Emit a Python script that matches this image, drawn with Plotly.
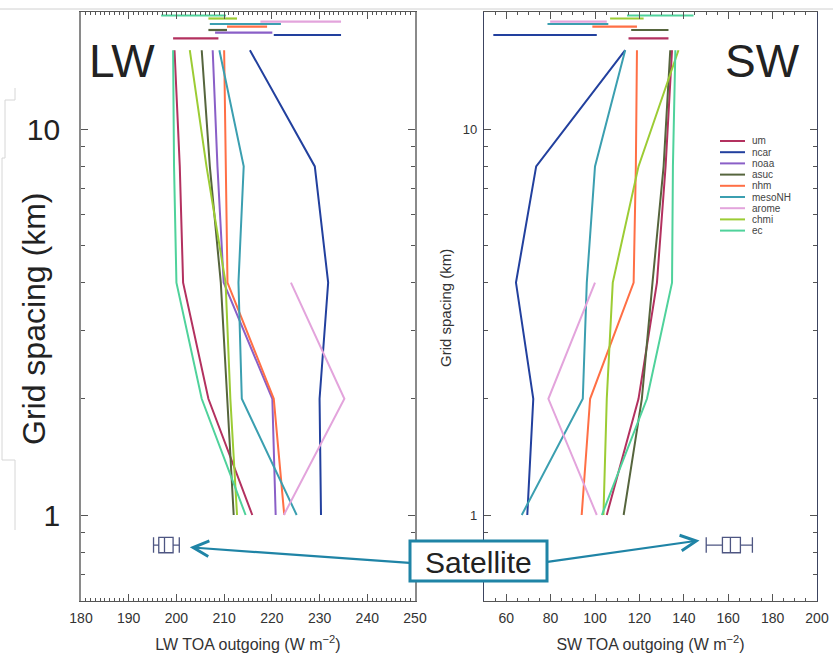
import math
import plotly.graph_objects as go

# ---------------- data ----------------
models = ["um", "ncar", "noaa", "asuc", "nhm", "mesoNH", "arome", "chmi", "ec"]
colors = ["#b3315f", "#22409e", "#8a5fc7", "#56653d", "#ff6f45",
          "#3b9fb0", "#e3a4dc", "#9ccc34", "#4fd29b"]

grid_km = [1, 2, 4, 8, 16]

# LW TOA outgoing (W m-2) at grid spacings 1, 2, 4, 8, 16 km
lw_um     = [215.9, 206.7, 201.4, 200.7, 199.6]
lw_ncar   = [230.3, 230.0, 231.8, 229.0, 215.4]
lw_noaa   = [220.8, 220.1, 209.9, 208.6, 207.6]
lw_asuc   = [212.0, 210.6, 209.3, 207.0, 205.3]
lw_nhm    = [222.6, 220.4, 210.7, 210.4, 210.0]
lw_mesoNH = [225.2, 213.7, 213.0, 214.1, 209.0]
lw_arome  = [222.5, 235.2, 224.0, None, None]
lw_chmi   = [212.7, 211.3, 210.3, 206.3, 202.8]
lw_ec     = [214.5, 205.3, 200.0, 199.5, 199.3]

# SW TOA outgoing (W m-2)
sw_um     = [105.3, 119.6, 127.9, 131.8, 134.7]
sw_ncar   = [69.5, 72.2, 64.4, 73.5, 113.6]
sw_noaa   = [None, None, None, None, None]
sw_asuc   = [112.9, 121.1, 125.9, 130.9, 133.9]
sw_nhm    = [94.0, 97.8, 117.4, 118.4, 118.9]
sw_mesoNH = [67.0, 94.5, 96.3, 100.0, 113.6]
sw_arome  = [100.8, 79.0, 100.0, None, None]
sw_chmi   = [103.8, 105.3, 108.0, 119.6, 137.6]
sw_ec     = [103.1, 123.4, 134.7, 135.1, 136.2]

# range bars drawn above the profiles (grid spacing position per model)
bar_km    = [17.18, 17.52, 17.76, 18.05, 18.41, 18.71, 18.97, 19.33, 19.68]
lw_bar_lo = [199.3, 220.4, 208.1, 206.7, 210.6, 207.0, 217.6, 206.7, 196.8]
lw_bar_hi = [208.8, 234.5, 220.1, 210.6, 219.0, 221.9, 234.5, 212.7, 210.4]
sw_bar_lo = [115.1, 54.2, None, 116.3, 98.8, 78.6, 79.8, 106.8, 114.4]
sw_bar_hi = [133.1, 100.8, None, 133.1, 118.9, 106.0, 105.3, 121.9, 144.4]

# satellite box plots: lower whisker, q1, median, q3, upper whisker
sat_km = 0.836
lw_sat = [195.2, 196.3, 197.5, 199.3, 200.6]
sw_sat = [150.1, 157.4, 161.0, 165.5, 170.9]

lw_ticks = [180, 190, 200, 210, 220, 230, 240, 250]
sw_ticks = [60, 80, 100, 120, 140, 160, 180, 200]

lw_series = [lw_um, lw_ncar, lw_noaa, lw_asuc, lw_nhm, lw_mesoNH, lw_arome, lw_chmi, lw_ec]
sw_series = [sw_um, sw_ncar, sw_noaa, sw_asuc, sw_nhm, sw_mesoNH, sw_arome, sw_chmi, sw_ec]

# ---------------- layout helpers ----------------
W, H = 833, 661
def fx(p):
    return p / W
def fy(p):
    return 1 - p / H

LW_X0, LW_X1 = 81, 415
SW_X0, SW_X1 = 484, 817
Y_TOP, Y_BOT = 12, 601
LW_RANGE = [180, 250]
SW_RANGE = [50, 200]
ylog_range = [-0.2228, 1.3031]

def lw_px(v):
    return LW_X0 + (v - LW_RANGE[0]) / (LW_RANGE[1] - LW_RANGE[0]) * (LW_X1 - LW_X0)
def sw_px(v):
    return SW_X0 + (v - SW_RANGE[0]) / (SW_RANGE[1] - SW_RANGE[0]) * (SW_X1 - SW_X0)
def y_px(logv):
    return Y_TOP + (ylog_range[1] - logv) / (ylog_range[1] - ylog_range[0]) * (Y_BOT - Y_TOP)

FONT = "Liberation Sans, Arial, Helvetica, sans-serif"
FRAME = "#555555"

fig = go.Figure()

for panel, series, lo, hi, xa, ya in [
    ("LW", lw_series, lw_bar_lo, lw_bar_hi, "x", "y"),
    ("SW", sw_series, sw_bar_lo, sw_bar_hi, "x2", "y2"),
]:
    for m, c, vals, blo, bhi, bk in zip(models, colors, series, lo, hi, bar_km):
        xs = [v for v in vals if v is not None]
        ys = [g for v, g in zip(vals, grid_km) if v is not None]
        if xs:
            fig.add_trace(go.Scatter(x=xs, y=ys, mode="lines", name=m,
                                     line=dict(color=c, width=2),
                                     xaxis=xa, yaxis=ya, showlegend=False,
                                     hoverinfo="skip"))
        if blo is not None:
            fig.add_trace(go.Scatter(x=[blo, bhi], y=[bk, bk], mode="lines",
                                     line=dict(color=c, width=2.2),
                                     xaxis=xa, yaxis=ya, showlegend=False,
                                     hoverinfo="skip"))

for stats, xa, ya in [(lw_sat, "x", "y"), (sw_sat, "x2", "y2")]:
    fig.add_trace(go.Box(
        y=[sat_km], lowerfence=[stats[0]], q1=[stats[1]], median=[stats[2]],
        q3=[stats[3]], upperfence=[stats[4]], orientation="h",
        width=0.04, whiskerwidth=1, fillcolor="rgba(0,0,0,0)",
        line=dict(color="#4e5682", width=1.3), xaxis=xa, yaxis=ya,
        showlegend=False, hoverinfo="skip"))

minor_y = [0.6, 0.7, 0.8, 0.9, 2, 3, 4, 5, 6, 7, 8, 9, 20]

common_x = dict(showgrid=False, zeroline=False, showline=True, linecolor=FRAME,
                linewidth=1.2, mirror="ticks", ticks="inside", ticklen=7,
                tickcolor=FRAME, tickfont=dict(size=14, color="#333333", family=FONT),
                ticklabelstandoff=4,
                title_font=dict(size=16, color="#333333", family=FONT),
                title_standoff=13, automargin=False)
common_y = dict(type="log", range=ylog_range, showgrid=False, zeroline=False,
                showline=True, linecolor=FRAME, linewidth=1.2, mirror="ticks",
                ticks="inside", ticklen=7, tickcolor=FRAME, tickmode="array",
                tickvals=[1, 10], ticktext=["1", "10"],
                minor=dict(tickmode="array", tickvals=minor_y, ticks="inside",
                           ticklen=4, tickcolor=FRAME),
                domain=[fy(Y_BOT), fy(Y_TOP)], automargin=False)

fig.update_layout(
    width=W, height=H, margin=dict(l=0, r=0, t=0, b=0, autoexpand=False),
    paper_bgcolor="white", plot_bgcolor="white",
    font=dict(family=FONT, color="#333333"),
    showlegend=False,
    xaxis=dict(common_x, domain=[fx(LW_X0), fx(LW_X1)], range=LW_RANGE,
               tickmode="array", tickvals=lw_ticks,
               minor=dict(dtick=1, ticks="inside", ticklen=3, tickcolor=FRAME),
               title_text="LW TOA outgoing (W m<sup>−2</sup>)", anchor="y"),
    xaxis2=dict(common_x, domain=[fx(SW_X0), fx(SW_X1)], range=SW_RANGE,
                tickmode="array", tickvals=sw_ticks,
                minor=dict(dtick=5, tick0=50, ticks="inside", ticklen=3, tickcolor=FRAME),
                title_text="SW TOA outgoing (W m<sup>−2</sup>)", anchor="y2"),
    yaxis=dict(common_y, anchor="x", linecolor="#8a8a8a", linewidth=1.6,
               tickfont=dict(size=30, color="#222222", family=FONT),
               ticklabelstandoff=13),
    yaxis2=dict(common_y, anchor="x2", linecolor="#3c4460",
                tickfont=dict(size=13, color="#333333", family=FONT),
                ticklabelstandoff=3),
)

def label(x, y, text, size, color="#222222", angle=0, xanchor="center"):
    fig.add_annotation(x=fx(x), y=fy(y), xref="paper", yref="paper", text=text,
                       showarrow=False, xanchor=xanchor, yanchor="middle",
                       textangle=angle, font=dict(size=size, color=color, family=FONT))

# panel labels and axis titles
label(87, 61, "LW", 46, xanchor="left")
label(802, 61, "SW", 46, xanchor="right")
label(34, 319, "Grid spacing (km)", 32, angle=-90)
label(445, 308, "Grid spacing (km)", 15, color="#333333", angle=-90)

# legend (drawn manually for compact spacing)
for i, (m, c) in enumerate(zip(models, colors)):
    yy = 141 + i * 11.2
    fig.add_shape(type="line", xref="paper", yref="paper",
                  x0=fx(720), x1=fx(745), y0=fy(yy), y1=fy(yy),
                  line=dict(color=c, width=2))
    label(750, yy, m, 10, color="#444444", xanchor="left")

# decorative slide artefacts
fig.add_shape(type="line", xref="paper", yref="paper", x0=0, x1=1,
              y0=fy(9), y1=fy(9), line=dict(color="#d0d0d0", width=1))
fig.add_shape(type="path", xref="paper", yref="paper",
              path=(f"M {fx(15)} {fy(88)} L {fx(15)} {fy(100)} L {fx(5)} {fy(100)} "
                    f"L {fx(5)} {fy(158)} L {fx(2)} {fy(158)} L {fx(2)} {fy(460)} "
                    f"L {fx(15)} {fy(460)} L {fx(15)} {fy(530)}"),
              line=dict(color="#d6d6d6", width=1))

# Satellite callout arrows (head near each satellite box, tail at callout box)
TEAL = "#1f84a6"
lw_head_x = lw_sat[4] + 2.2
lw_head_y = math.log10(sat_km) - 0.006
sw_head_x = sw_sat[0] - 3
sw_head_y = math.log10(sat_km) + 0.012
for hx, hy, xr, yr, tx, ty, to_px in [
    (lw_head_x, lw_head_y, "x", "y", 411, 563, lw_px),
    (sw_head_x, sw_head_y, "x2", "y2", 546, 562, sw_px),
]:
    fig.add_annotation(x=hx, y=hy, xref=xr, yref=yr,
                       ax=tx - to_px(hx), ay=ty - y_px(hy),
                       text="", showarrow=True, arrowhead=5, arrowsize=1.4,
                       arrowwidth=2.2, arrowcolor=TEAL)
fig.add_shape(type="rect", xref="paper", yref="paper",
              x0=fx(410), x1=fx(547), y0=fy(581), y1=fy(541),
              line=dict(color=TEAL, width=3), fillcolor="white", layer="above")
label(478.5, 562, "Satellite", 30)

fig.write_html("out.html", config={"displayModeBar": False},
               post_script="document.body.style.margin='0';document.body.style.padding='0';")
